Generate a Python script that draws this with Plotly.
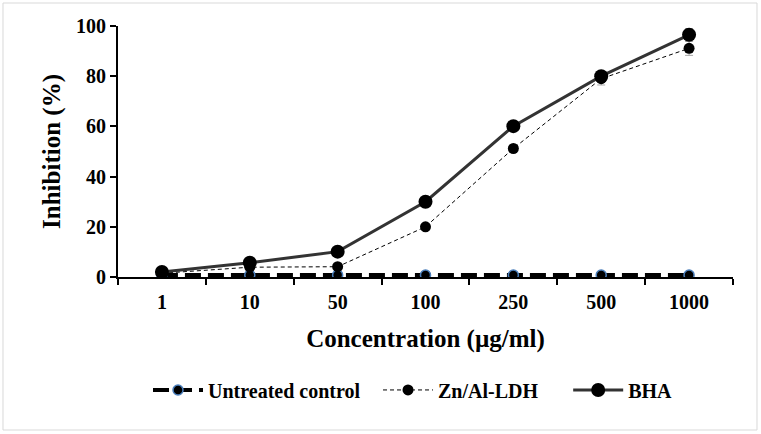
import plotly.graph_objects as go

concentrations = ["1", "10", "50", "100", "250", "500", "1000"]
untreated = [0.8, 0.8, 0.8, 0.8, 0.8, 0.8, 0.8]
ldh = [1.5, 3.9, 4.1, 20.0, 51.2, 79.0, 91.1]
ldh_err = [0.3, 0.4, 0.4, 0.6, 0.8, 2.5, 2.8]
bha = [2.0, 5.7, 10.1, 30.0, 60.1, 80.0, 96.5]
bha_err = [0.3, 0.4, 0.5, 0.8, 1.0, 1.2, 2.5]

FONT = "'Liberation Serif', 'Times New Roman', Times, serif"
LEGFONT = dict(family=FONT, size=20, color="black", weight="bold")
fig = go.Figure()

fig.add_trace(go.Scatter(
    x=concentrations, y=untreated, name="Untreated control", legend="legend",
    mode="lines+markers",
    line=dict(color="black", width=4, dash="16px,7px"),
    marker=dict(size=10, color="black", line=dict(color="#4a7ebb", width=1.5)),
))
fig.add_trace(go.Scatter(
    x=concentrations, y=ldh, name="Zn/Al-LDH", legend="legend2",
    mode="lines+markers",
    line=dict(color="black", width=1, dash="4px,3px"),
    marker=dict(size=11, color="black"),
    error_y=dict(type="data", array=ldh_err, color="#a6a6a6", thickness=1, width=4),
))
fig.add_trace(go.Scatter(
    x=concentrations, y=bha, name="BHA", legend="legend3",
    mode="lines+markers",
    line=dict(color="#333333", width=3),
    marker=dict(size=14, color="black"),
    error_y=dict(type="data", array=bha_err, color="#a6a6a6", thickness=1, width=4),
))

def leg(x):
    return dict(orientation="h", x=x, xanchor="left", y=-0.45, yanchor="middle",
                font=LEGFONT, itemwidth=50, bgcolor="rgba(0,0,0,0)")

fig.update_layout(
    width=761, height=434,
    margin=dict(l=118, r=28, t=26, b=157),
    paper_bgcolor="white", plot_bgcolor="white",
    font=dict(family=FONT, size=20, color="black"),
    showlegend=True,
    legend=leg(0.0488), legend2=leg(0.4228), legend3=leg(0.732),
    shapes=[dict(type="rect", xref="paper", yref="paper",
                 x0=-0.187, x1=1.039, y0=-0.6096, y1=1.0916,
                 line=dict(color="#d9d9d9", width=1), fillcolor="rgba(0,0,0,0)", layer="below")],
)

fig.update_xaxes(
    type="category", range=[-0.5, 6.5],
    showline=True, linecolor="black", linewidth=2,
    ticks="outside", tickson="boundaries", ticklen=6, tickwidth=2, tickcolor="black",
    ticklabelstandoff=6,
    showgrid=False, zeroline=False,
    tickfont=dict(family=FONT, size=20, color="black", weight="bold"),
    title=dict(text="Concentration (µg/ml)", standoff=17,
               font=dict(family=FONT, size=25, color="black", weight="bold")),
)
fig.update_yaxes(
    range=[0, 100], tickvals=[0, 20, 40, 60, 80, 100],
    showline=True, linecolor="black", linewidth=2,
    ticks="outside", ticklen=6, tickwidth=2, tickcolor="black",
    showgrid=False, zeroline=False,
    tickfont=dict(family=FONT, size=20, color="black", weight="bold"),
    title=dict(text="Inhibition (%)", standoff=8,
               font=dict(family=FONT, size=25, color="black", weight="bold")),
)

fig.write_html("out.html", config={"displayModeBar": False},
               post_script="document.body.style.margin='0';document.body.style.overflow='hidden';")
